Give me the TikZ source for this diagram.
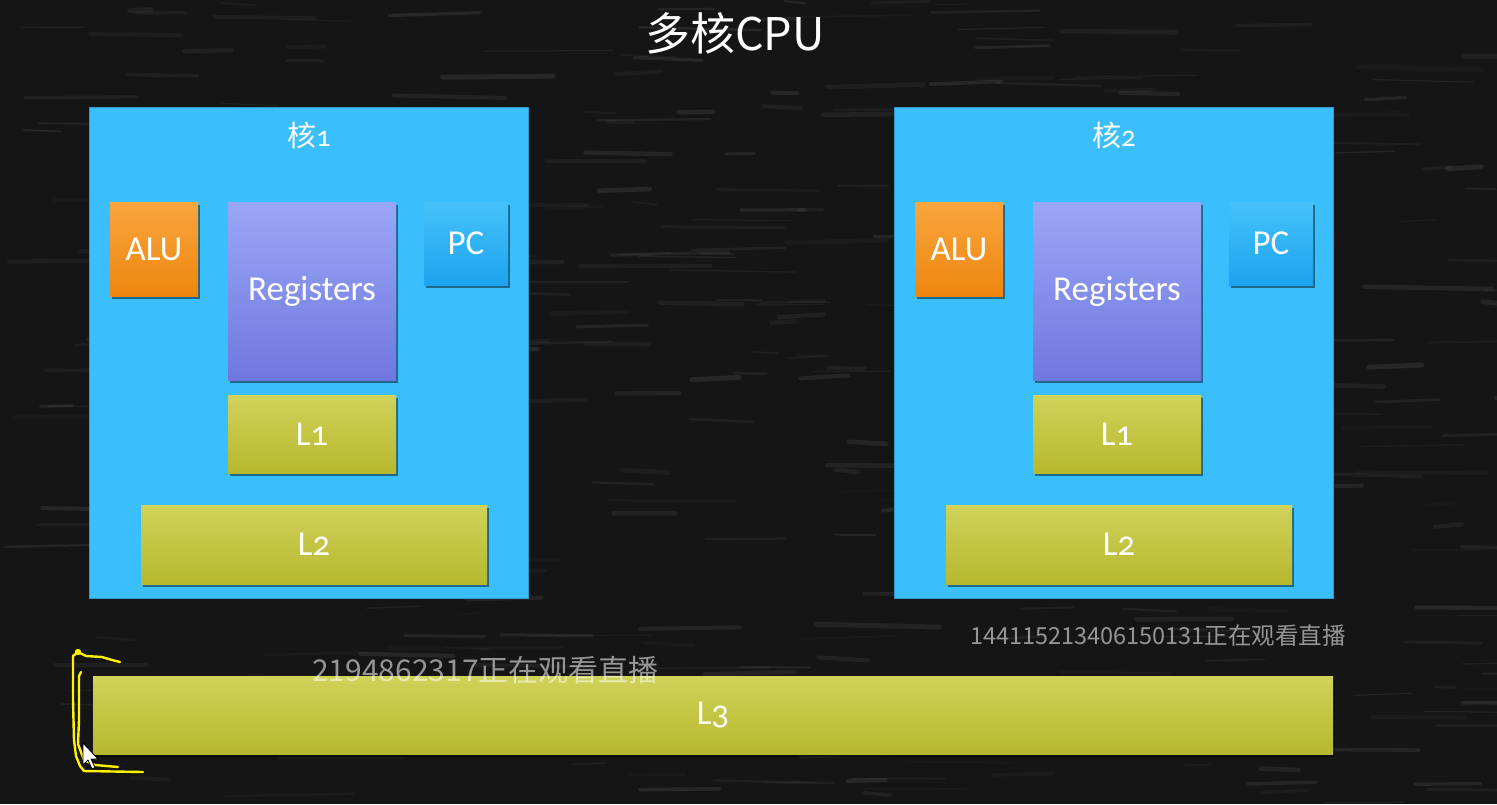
\documentclass[tikz,border=0pt]{standalone}
\usepackage{fontspec}
\setmainfont{Carlito}[Numbers=OldStyle]
\newfontfamily\cjk{Noto Sans CJK SC}
\usetikzlibrary{shadows}

\definecolor{board}{HTML}{151515}
\definecolor{corefill}{HTML}{3BBFFC}
\definecolor{aluTop}{HTML}{F9A53E}
\definecolor{aluBot}{HTML}{EE860E}
\definecolor{regTop}{HTML}{9AA7F6}
\definecolor{regBot}{HTML}{6F78DF}
\definecolor{pcTop}{HTML}{45C2FA}
\definecolor{pcBot}{HTML}{1DA3EE}
\definecolor{cacheTop}{HTML}{D0D25A}
\definecolor{cacheBot}{HTML}{B7B82E}
\definecolor{penyellow}{HTML}{FFF200}

\tikzset{
  unit/.style={rectangle, inner sep=0pt, text=white,
    font=\fontsize{35}{38}\selectfont,
    drop shadow={shadow xshift=1.5pt, shadow yshift=-2.5pt, opacity=0.45, fill=black}},
  alubox/.style={unit, top color=aluTop, bottom color=aluBot},
  regbox/.style={unit, top color=regTop, bottom color=regBot},
  pcbox/.style={unit, top color=pcTop, bottom color=pcBot},
  cachebox/.style={unit, top color=cacheTop, bottom color=cacheBot},
  corebox/.style={rectangle, inner sep=0pt, fill=corefill, draw=corefill!80!black, line width=0.6pt},
  coretitle/.style={text=white, inner sep=0pt, font=\fontsize{29}{31}\selectfont},
  viewer/.style={text=white, text opacity=0.55, inner sep=0pt},
  pen/.style={penyellow, line width=2.4pt, line cap=round, line join=round},
}

\begin{document}
\begin{tikzpicture}[x=1pt, y=-1pt]
  % chalkboard
  \fill[board] (0,0) rectangle (1497,804);
  \useasboundingbox (0,0) rectangle (1497,804);
  \pgfmathsetseed{31}
  \foreach \k in {1,...,380}{
    \pgfmathsetmacro{\sx}{rnd*1497}
    \pgfmathsetmacro{\sy}{rnd*804}
    \pgfmathsetmacro{\sl}{20+rnd*110}
    \pgfmathsetmacro{\so}{0.02+rnd*0.06}
    \pgfmathsetmacro{\sw}{1+rnd*4}
    \draw[white, opacity=\so, line width=\sw pt, line cap=round] (\sx,\sy) -- ++(\sl, rnd*6-3);
  }

  % title
  \node[text=white, inner sep=0pt, font=\cjk\fontsize{45}{48}\selectfont] (title) at (735,33) {多核CPU};

  % core 1
  \node[corebox, minimum width=439pt, minimum height=491pt] (core1) at (308.5,352.5) {};
  \node[coretitle] (t1) at (309,135) {{\cjk 核}1};
  \node[alubox, minimum width=88pt, minimum height=94pt] (alu1) at (154,249) {ALU};
  \node[regbox, minimum width=168pt, minimum height=178pt] (reg1) at (312,291) {Registers};
  \node[pcbox, minimum width=84pt, minimum height=83pt] (pc1) at (466,243.5) {PC};
  \node[cachebox, minimum width=168pt, minimum height=78pt] (l11) at (312,434) {L1};
  \node[cachebox, minimum width=346pt, minimum height=79pt] (l21) at (314,544.5) {L2};

  % core 2
  \node[corebox, minimum width=439pt, minimum height=491pt] (core2) at (1113.5,352.5) {};
  \node[coretitle] (t2) at (1114,135) {{\cjk 核}2};
  \node[alubox, minimum width=88pt, minimum height=94pt] (alu2) at (959,249) {ALU};
  \node[regbox, minimum width=168pt, minimum height=178pt] (reg2) at (1117,291) {Registers};
  \node[pcbox, minimum width=84pt, minimum height=83pt] (pc2) at (1271,243.5) {PC};
  \node[cachebox, minimum width=168pt, minimum height=78pt] (l12) at (1117,434) {L1};
  \node[cachebox, minimum width=346pt, minimum height=79pt] (l22) at (1119,544.5) {L2};

  % shared cache
  \node[cachebox, minimum width=1240pt, minimum height=78pt] (l3) at (713,715) {L3};

  % viewer notices
  \node[viewer, anchor=west, font=\cjk\fontsize{30}{32}\selectfont] (v1) at (312,670) {2194862317正在观看直播};
  \node[viewer, anchor=west, font=\cjk\fontsize{23.5}{26}\selectfont] (v2) at (970,636) {144115213406150131正在观看直播};

  % pen marks beside the shared cache
  \draw[pen] (78,652) -- (73,656) -- (73,700) -- (74,740) -- (76,756) -- (80,766) -- (84,771) -- (143,772);
  \draw[pen] (78,652) -- (86,656) -- (102,657) -- (112,660) -- (120,662);
  \draw[pen] (81,672) -- (79,676) -- (79,720) -- (78,744) -- (84,760) -- (95,765) -- (118,767);
  \fill[penyellow] (78,652) circle (3.2pt);

  % pointer
  \coordinate (tip) at (83,743);
  \draw[black, fill=white, line width=0.8pt, line join=round]
    (tip) -- ++(0,22) -- ++(5,-5) -- ++(4,9) -- ++(3,-1.5) -- ++(-4,-8.5) -- ++(7,0) -- cycle;
\end{tikzpicture}
\end{document}
